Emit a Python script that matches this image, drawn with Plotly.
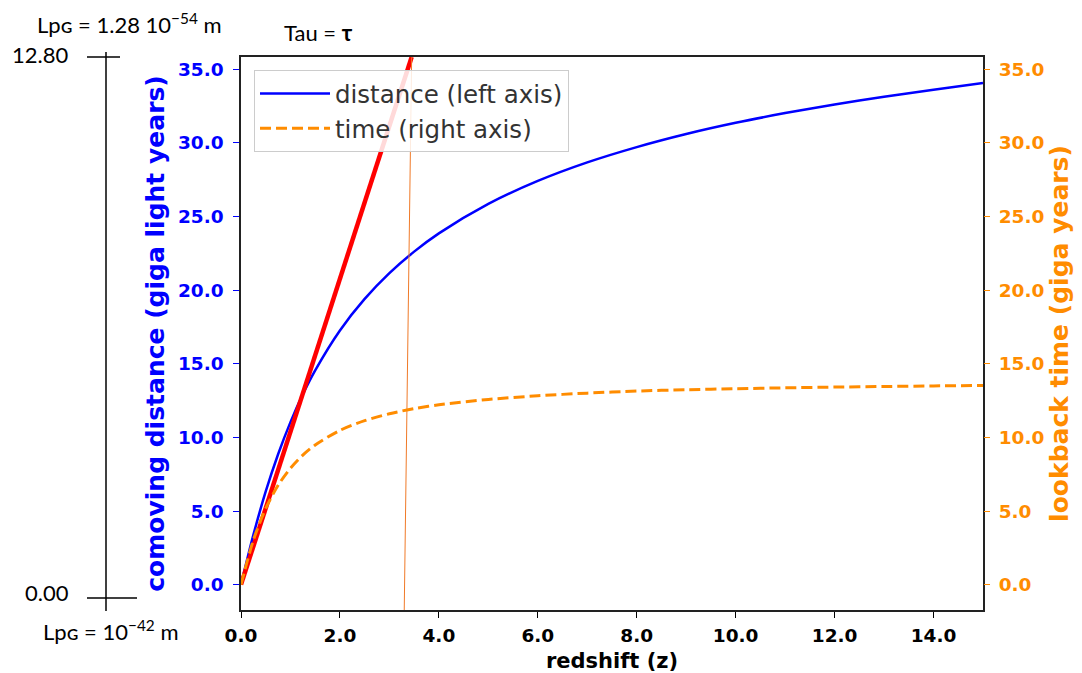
import plotly.graph_objects as go

# ---- data ----
z = [0, 0.25, 0.5, 0.75, 1.0, 1.25, 1.5, 2.0, 2.5, 3.0, 3.5, 4.0, 5.0, 6.0,
     7.0, 8.0, 9.0, 10.0, 11.0, 12.0, 13.0, 14.0, 15.0]
distance = [0, 3.38, 6.33, 8.86, 11.04, 12.93, 14.56, 17.27, 19.41, 21.16, 22.62, 23.86,
            25.86, 27.42, 28.68, 29.72, 30.61, 31.37, 32.03, 32.62, 33.14, 33.61, 34.08]
lookback = [0, 3.03, 5.18, 6.75, 7.91, 8.80, 9.49, 10.48, 11.14, 11.61, 11.96, 12.22,
            12.58, 12.83, 13.01, 13.15, 13.24, 13.31, 13.37, 13.42, 13.46, 13.50, 13.53]
tau_z = [0, 3.45]          # thick red line
tau_d = [0, 35.84]
thin_z = [3.30, 3.45]      # thin orange line
thin_d = [-1.72, 35.84]

y_ticks = [0, 5, 10, 15, 20, 25, 30, 35]
x_ticks = [0, 2, 4, 6, 8, 10, 12, 14]

# ---- geometry (screen pixels of the reference) ----
OFF = 8                      # page body margin
W_FIG, H_FIG = 1082 - OFF, 673 - OFF
L, R, T, B = 241, 983, 57, 610
PW, PH = R - L, B - T

def px(xp):
    return (xp - L) / PW

def py(yp):
    return 1 - (yp - T) / PH

BLUE = "#0000ff"
ORANGE = "#ff8c00"
tick_font = dict(family="DejaVu Sans", size=18.5, weight="bold")

fig = go.Figure()
fig.add_trace(go.Scatter(x=z, y=distance, mode="lines", name="distance (left axis)",
                         line=dict(color=BLUE, width=2.5, shape="spline", smoothing=0.8)))
fig.add_trace(go.Scatter(x=z, y=lookback, mode="lines", name="time (right axis)",
                         yaxis="y2",
                         line=dict(color=ORANGE, width=3, dash="11px,5px", shape="spline",
                                   smoothing=0.8)))
fig.add_trace(go.Scatter(x=tau_z, y=tau_d, mode="lines", showlegend=False,
                         line=dict(color="#ff0000", width=4.5)))
fig.add_trace(go.Scatter(x=thin_z, y=thin_d, mode="lines", showlegend=False,
                         line=dict(color="#f07a28", width=1)))

fig.update_layout(
    width=W_FIG, height=H_FIG, autosize=False,
    margin=dict(l=L - OFF, r=1082 - R, t=T - OFF, b=673 - B, pad=0, autoexpand=False),
    plot_bgcolor="white", paper_bgcolor="white",
    showlegend=True,
    legend=dict(x=px(254), y=py(70), xanchor="left", yanchor="top",
                bgcolor="rgba(255,255,255,0.85)", bordercolor="#cccccc", borderwidth=1,
                font=dict(family="DejaVu Sans", size=24.5, color="#333333"),
                itemwidth=70, tracegroupgap=0),
    xaxis=dict(range=[0, 15], tickvals=x_ticks, tickformat=".1f", automargin=False,
               ticks="outside", ticklen=6, tickwidth=1.2, tickcolor="black",
               ticklabelstandoff=2,
               tickfont=dict(color="black", **tick_font),
               showline=True, linecolor="#222222", linewidth=1.5, mirror=True,
               showgrid=False, zeroline=False,
               title=dict(text="redshift (z)", standoff=10,
                          font=dict(family="DejaVu Sans", size=21, weight="bold", color="black"))),
    yaxis=dict(range=[-1.72, 35.84], tickvals=y_ticks, tickformat=".1f", automargin=False,
               ticks="outside", ticklen=6, tickwidth=1.2, tickcolor=BLUE,
               ticklabelstandoff=6,
               tickfont=dict(color=BLUE, **tick_font),
               showline=True, linecolor="#222222", linewidth=1.5, mirror=True,
               showgrid=False, zeroline=False,
               title=dict(text="comoving distance (giga light years)", standoff=6,
                          font=dict(family="DejaVu Sans", size=25, weight="bold", color=BLUE))),
    yaxis2=dict(range=[-1.72, 35.84], tickvals=y_ticks, tickformat=".1f", automargin=False,
                overlaying="y", side="right",
                ticks="outside", ticklen=6, tickwidth=1.2, tickcolor=ORANGE,
                ticklabelstandoff=5,
                tickfont=dict(color=ORANGE, **tick_font),
                showline=False, showgrid=False, zeroline=False,
                title=dict(text="lookback time (giga years)", standoff=7,
                           font=dict(family="DejaVu Sans", size=25, weight="bold", color=ORANGE))),
)

ann_font = dict(family="Lato", size=22, color="black")
annotations = [
    ("Lpɢ = 1.28 10<sup>−54</sup> m", 129, 24),
    ("12.80", 40, 55),
    ("0.00", 47, 592),
    ("Lpɢ = 10<sup>−42</sup> m", 111, 630),
    ("Tau = <b>τ</b>", 318, 33),
]
for text, xc, yc in annotations:
    fig.add_annotation(text=text, x=px(xc), y=py(yc), xref="paper", yref="paper",
                       xanchor="center", yanchor="middle", showarrow=False, font=ann_font)

line_style = dict(color="black", width=1.5)
fig.add_shape(type="line", xref="paper", yref="paper", x0=px(106), x1=px(106),
              y0=py(52), y1=py(611), line=line_style)
fig.add_shape(type="line", xref="paper", yref="paper", x0=px(87), x1=px(120),
              y0=py(57), y1=py(57), line=line_style)
fig.add_shape(type="line", xref="paper", yref="paper", x0=px(87), x1=px(137),
              y0=py(598), y1=py(598), line=line_style)

fig.write_html("out.html")
